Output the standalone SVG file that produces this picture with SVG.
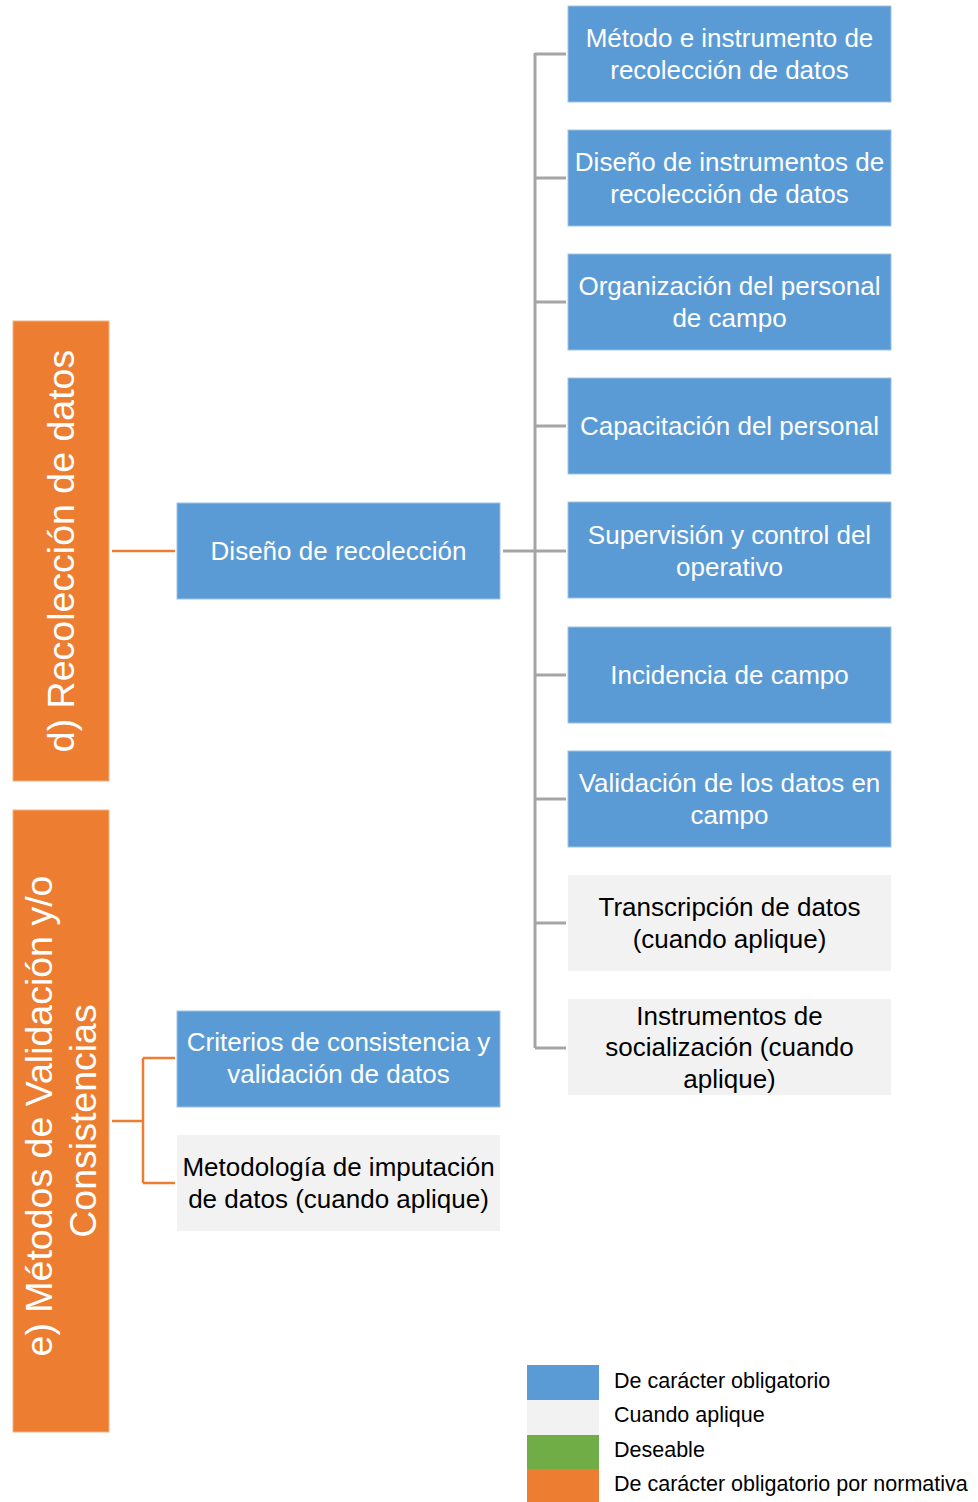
<svg xmlns="http://www.w3.org/2000/svg" width="978" height="1502" viewBox="0 0 978 1502">
<style>
text{font-family:"Liberation Sans",Arial,sans-serif;text-anchor:middle}
.blue{fill:#5B9BD5;stroke:#9DC3E6;stroke-width:1}
.grey{fill:#F2F2F2}
.orange{fill:#ED7D31;stroke:#F4B183;stroke-width:1}
.wt{fill:#FFFFFF;font-size:26px}
.bt{fill:#000000;font-size:26px}
.vt{fill:#FFFFFF;font-size:37.5px}
.lg{fill:#000000;font-size:21.5px;text-anchor:start}
.gc{stroke:#A5A5A5;stroke-width:3;fill:none}
.oc{stroke:#ED7D31;stroke-width:2.5;fill:none}
</style>
<rect width="978" height="1502" fill="#FFFFFF"/>
<g id="connectors">
<path class="gc" d="M503,551H535M535,53V1048M535,54H566M535,178H566M535,302H566M535,426H566M535,551H566M535,675H566M535,799H566M535,923H566M535,1048H566"/>
<path class="oc" d="M112,551H175"/>
<path class="oc" d="M112,1121H143M143,1058V1183M143,1058H175M143,1183H175"/>
</g>
<g id="d-recoleccion">
<rect class="orange" x="13" y="321" width="96" height="460"/>
<text class="vt" transform="translate(74,551) rotate(-90)">d) Recolección de datos</text>
</g>
<g id="e-metodos">
<rect class="orange" x="13" y="810" width="96" height="622"/>
<text class="vt" transform="translate(52,1116) rotate(-90)">e) Métodos de Validación y/o</text>
<text class="vt" transform="translate(96,1121) rotate(-90)">Consistencias</text>
</g>
<g id="diseno-recoleccion">
<rect class="blue" x="177" y="503" width="323" height="96"/>
<text class="wt" x="338.5" y="560">Diseño de recolección</text>
</g>
<g id="criterios">
<rect class="blue" x="177" y="1011" width="323" height="96"/>
<text class="wt" x="338.5" y="1051">Criterios de consistencia y</text>
<text class="wt" x="338.5" y="1083">validación de datos</text>
</g>
<g id="metodologia">
<rect class="grey" x="177" y="1135" width="323" height="96"/>
<text class="bt" x="338.5" y="1176">Metodología de imputación</text>
<text class="bt" x="338.5" y="1208">de datos (cuando aplique)</text>
</g>
<g id="metodo-instrumento">
<rect class="blue" x="568" y="6" width="323" height="96"/>
<text class="wt" x="729.5" y="47">Método e instrumento de</text>
<text class="wt" x="729.5" y="79">recolección de datos</text>
</g>
<g id="diseno-instrumentos">
<rect class="blue" x="568" y="130" width="323" height="96"/>
<text class="wt" x="729.5" y="171">Diseño de instrumentos de</text>
<text class="wt" x="729.5" y="203">recolección de datos</text>
</g>
<g id="organizacion">
<rect class="blue" x="568" y="254" width="323" height="96"/>
<text class="wt" x="729.5" y="295">Organización del personal</text>
<text class="wt" x="729.5" y="327">de campo</text>
</g>
<g id="capacitacion">
<rect class="blue" x="568" y="378" width="323" height="96"/>
<text class="wt" x="729.5" y="435">Capacitación del personal</text>
</g>
<g id="supervision">
<rect class="blue" x="568" y="502" width="323" height="96"/>
<text class="wt" x="729.5" y="544">Supervisión y control del</text>
<text class="wt" x="729.5" y="576">operativo</text>
</g>
<g id="incidencia">
<rect class="blue" x="568" y="627" width="323" height="96"/>
<text class="wt" x="729.5" y="684">Incidencia de campo</text>
</g>
<g id="validacion-campo">
<rect class="blue" x="568" y="751" width="323" height="96"/>
<text class="wt" x="729.5" y="792">Validación de los datos en</text>
<text class="wt" x="729.5" y="824">campo</text>
</g>
<g id="transcripcion">
<rect class="grey" x="568" y="875" width="323" height="96"/>
<text class="bt" x="729.5" y="916">Transcripción de datos</text>
<text class="bt" x="729.5" y="948">(cuando aplique)</text>
</g>
<g id="socializacion">
<rect class="grey" x="568" y="999" width="323" height="96"/>
<text class="bt" x="729.5" y="1025">Instrumentos de</text>
<text class="bt" x="729.5" y="1056">socialización (cuando</text>
<text class="bt" x="729.5" y="1088">aplique)</text>
</g>
<g id="legend">
<rect x="527" y="1365" width="72" height="35" fill="#5B9BD5"/>
<rect x="527" y="1400" width="72" height="35" fill="#F2F2F2"/>
<rect x="527" y="1435" width="72" height="34" fill="#70AD47"/>
<rect x="527" y="1469" width="72" height="33" fill="#ED7D31"/>
<text class="lg" x="614" y="1388">De carácter obligatorio</text>
<text class="lg" x="614" y="1422">Cuando aplique</text>
<text class="lg" x="614" y="1457">Deseable</text>
<text class="lg" x="614" y="1491">De carácter obligatorio por normativa</text>
</g>
</svg>
